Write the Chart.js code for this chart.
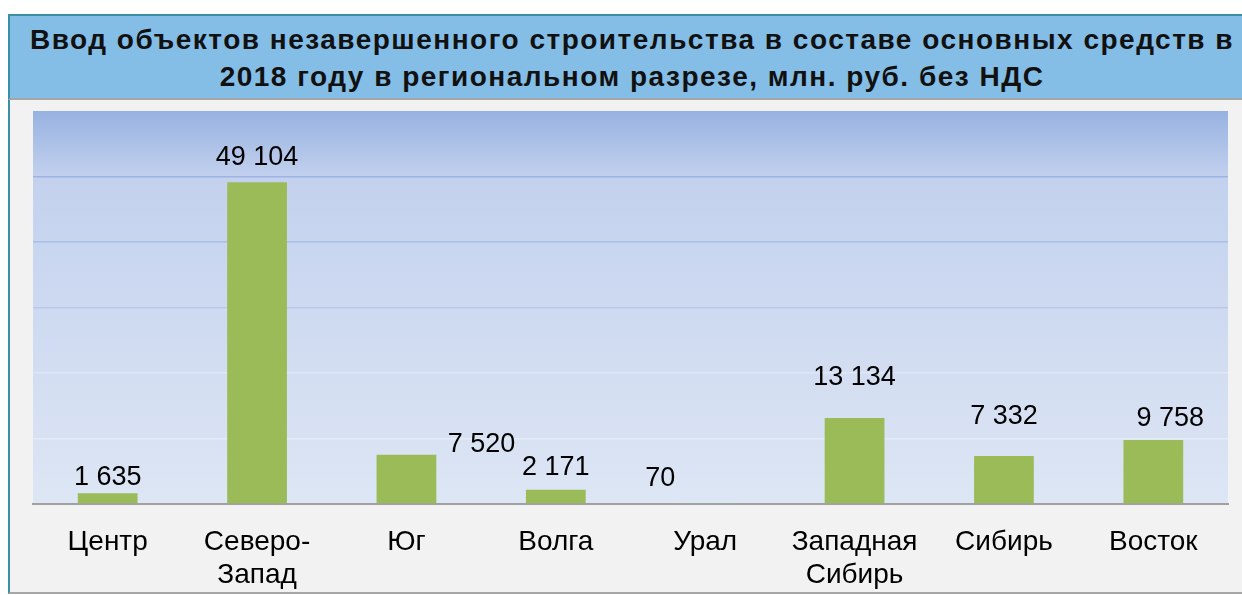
<!DOCTYPE html>
<html>
<head>
<meta charset="utf-8">
<script src="https://cdn.jsdelivr.net/npm/chart.js@4.4.1/dist/chart.umd.min.js"></script>
<style>
  html, body { margin: 0; padding: 0; width: 1242px; height: 595px; overflow: hidden; background: #ffffff; }
  #titleBox {
    position: absolute; left: 8px; top: 14px; width: 1244px; height: 82px;
    background: #84BEE7; border-top: 2px solid #3A8FA3; border-left: 2px solid #3A8FA3;
    border-bottom: 2px solid #A6A6A6; box-sizing: content-box;
    font-family: "Liberation Sans", Arial, sans-serif; font-weight: bold; font-size: 28px;
    letter-spacing: 1.5px; line-height: 37px; text-align: center; color: #111;
  }
  #titleBox div { padding-top: 5px; }
  #bodyBox {
    position: absolute; left: 8px; top: 100px; width: 1244px; height: 492px;
    background: #F2F2F2; border-left: 2px solid #3A8FA3; border-bottom: 2px solid #A6A6A6;
  }
  #wrap { position: absolute; left: 0; top: 0; width: 1242px; height: 595px; }
</style>
</head>
<body>
<div id="titleBox"><div>Ввод объектов незавершенного строительства в составе основных средств в<br>2018 году в региональном разрезе, млн. руб. без НДС</div></div>
<div id="bodyBox"></div>
<div id="wrap"><canvas id="c" width="1242" height="595"></canvas></div>
<script>
const categories = [["Центр"], ["Северо-", "Запад"], ["Юг"], ["Волга"], ["Урал"], ["Западная", "Сибирь"], ["Сибирь"], ["Восток"]];
const values = [1635, 49104, 7520, 2171, 70, 13134, 7332, 9758];
const yTicks = [0, 10000, 20000, 30000, 40000, 50000, 60000];

function fmt(v) { return String(v).replace(/\B(?=(\d{3})+(?!\d))/g, ' '); }

const bgPlugin = {
  id: 'plotBg',
  beforeDraw(chart) {
    const { ctx, chartArea: a } = chart;
    const g = ctx.createLinearGradient(0, a.top, 0, a.bottom);
    g.addColorStop(0, '#97B2E1');
    g.addColorStop(0.17, '#C3D1EE');
    g.addColorStop(1, '#DDE6F4');
    ctx.save();
    ctx.fillStyle = g;
    ctx.fillRect(a.left, a.top, a.right - a.left, a.bottom - a.top);
    ctx.restore();
  }
};

const labelPlugin = {
  id: 'valueLabels',
  afterDatasetsDraw(chart, args, opts) {
    const { ctx } = chart;
    const meta = chart.getDatasetMeta(0);
    ctx.save();
    ctx.font = opts.font;
    ctx.fillStyle = opts.color;
    ctx.textAlign = 'center';
    ctx.textBaseline = 'middle';
    meta.data.forEach((bar, i) => {
      const off = opts.offsets[i] || [0, -20];
      ctx.fillText(fmt(chart.data.datasets[0].data[i]), bar.x + off[0], bar.y + off[1]);
    });
    ctx.restore();
  }
};

const gridColors = {
  10000: 'rgba(255,255,255,0.35)',
  20000: 'rgba(255,255,255,0.3)',
  30000: 'rgba(160,182,225,0.45)',
  40000: 'rgba(150,175,225,0.6)',
  50000: 'rgba(140,168,222,0.7)'
};

new Chart(document.getElementById('c'), {
  type: 'bar',
  data: {
    labels: categories,
    datasets: [{
      data: values,
      backgroundColor: '#9BBB59',
      borderWidth: 0,
      categoryPercentage: 1.0,
      barPercentage: 0.4
    }]
  },
  options: {
    responsive: false,
    animation: false,
    events: [],
    layout: { padding: { left: 33, right: 14, top: 111, bottom: 0 } },
    plugins: {
      legend: { display: false },
      tooltip: { enabled: false },
      title: { display: false },
      valueLabels: {
        font: '27px "Liberation Sans", Arial, sans-serif',
        color: '#000000',
        offsets: [[0, -16], [0, -25], [75, -10], [0, -22], [-45, -25], [0, -40], [0, -39], [17, -22]]
      }
    },
    scales: {
      x: {
        grid: { display: false, drawTicks: false },
        border: { display: true, color: '#A0A0A0', width: 2 },
        afterFit(scale) { scale.height = 91; },
        ticks: {
          color: '#000000',
          padding: 22,
          maxRotation: 0,
          autoSkip: false,
          font: { family: '"Liberation Sans", Arial, sans-serif', size: 28, lineHeight: 1.18 }
        }
      },
      y: {
        min: 0, max: 60000,
        afterBuildTicks(scale) { scale.ticks = yTicks.map(v => ({ value: v })); },
        afterFit(scale) { scale.width = 0; },
        ticks: { display: false },
        border: { display: false },
        grid: {
          drawTicks: false,
          lineWidth: 1.5,
          color(ctx) {
            const v = ctx.tick && ctx.tick.value;
            return gridColors[v] || 'rgba(0,0,0,0)';
          }
        }
      }
    }
  },
  plugins: [bgPlugin, labelPlugin]
});
</script>
</body>
</html>
